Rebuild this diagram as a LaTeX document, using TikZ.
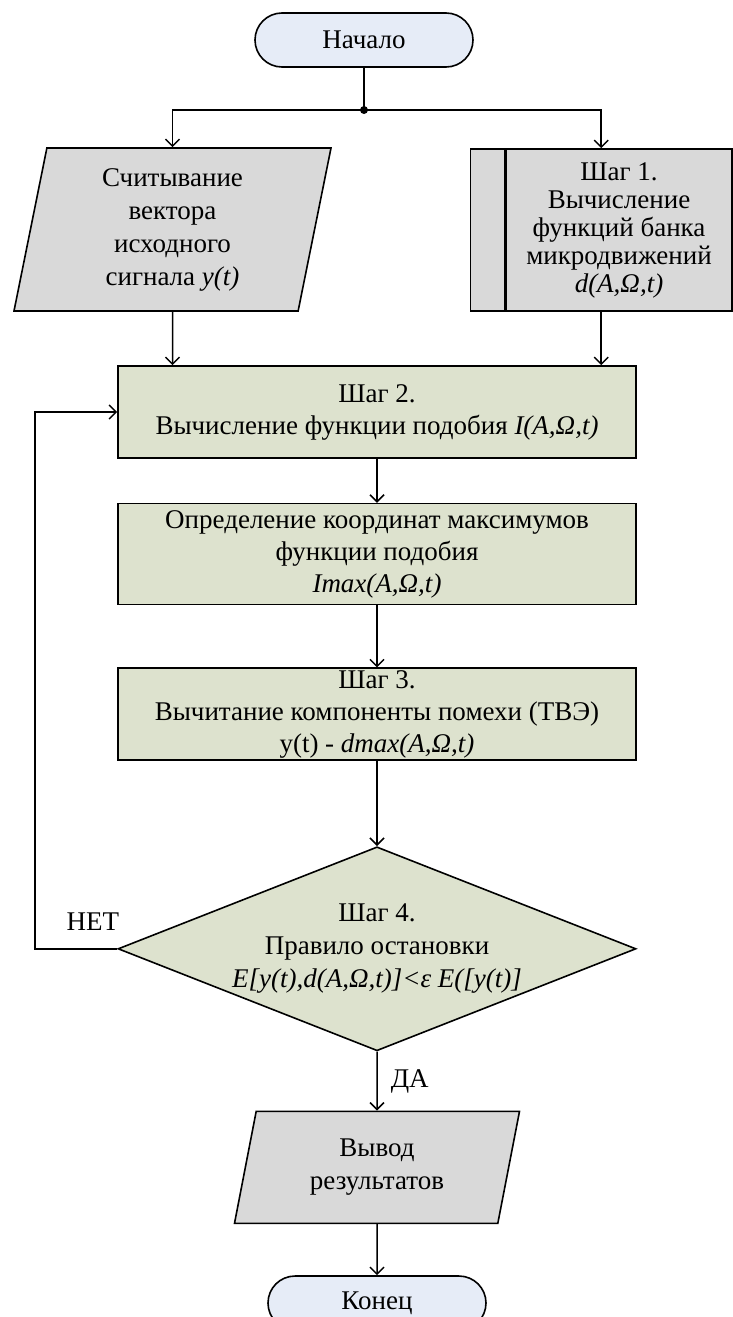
\documentclass[tikz,border=0pt]{standalone}
\usepackage{fontspec}
\setmainfont{Liberation Serif}
\usepackage{tikz}
\usetikzlibrary{positioning, shapes.geometric, arrows.meta, calc}

\definecolor{termfill}{RGB}{230,236,247}
\definecolor{iofill}{RGB}{217,217,217}
\definecolor{stepfill}{RGB}{221,226,206}

\begin{document}
\begin{tikzpicture}[
		x=1pt, y=1pt,
		node distance=44pt and 40pt,
		% --- STYLES ---
		terminal/.style={
			rectangle, draw, rounded corners=27pt, fill=termfill, line width=1.6pt,
			minimum width=218pt, minimum height=54pt, align=center, font=\fontsize{27}{32}\selectfont
		},
		iobox/.style={
			trapezium, trapezium stretches body, draw, fill=iofill, line width=1.6pt,
			inner sep=0pt, align=center, font=\fontsize{27}{33}\selectfont
		},
		procbox/.style={
			rectangle, draw, fill=iofill, line width=1.6pt, inner sep=0pt,
			minimum height=162pt, align=center, font=\fontsize{27}{28}\selectfont
		},
		stepbox/.style={
			rectangle, draw, fill=stepfill, line width=1.6pt, inner sep=0pt,
			minimum width=518pt, align=center, font=\fontsize{27}{32}\selectfont
		},
		decbox/.style={
			diamond, draw, fill=stepfill, line width=1.6pt, inner sep=0pt, shape aspect=2.54,
			minimum width=518pt, minimum height=204pt, align=center, font=\fontsize{27}{33}\selectfont
		},
		line/.style={
			draw, -{Straight Barb[length=7pt, width=14pt]}, line width=1.5pt
		},
		lbl/.style={
			font=\fontsize{27}{32}\selectfont, inner sep=0pt
		},
		dot/.style={
			circle, fill=black, inner sep=0pt, minimum size=8pt
		}
		]
		\useasboundingbox (0,0) rectangle (733,-1317);
		
		% ==========================================
		% 1. Start and split
		% ==========================================
		\node[terminal] (start) at (364,-40) {Начало};
		\coordinate (split) at (364,-110);
		\draw[line width=1.5pt] (start) -- (split);
		\node[dot] at (split) {};
		
		% ==========================================
		% 2. Input signal and function bank
		% ==========================================
		\node[iobox, trapezium left angle=75, trapezium right angle=105,
			minimum width=317pt, minimum height=163pt] (input) at (172.5,-229.5)
			{Считывание\\вектора\\исходного\\сигнала \textit{y(t)}};
		
		\node[procbox, minimum width=226pt] (bank) at (619,-230)
			{Шаг 1.\\Вычисление\\функций банка\\микродвижений\\\textit{d(A,Ω,t)}};
		\node[procbox, minimum width=34pt, left=0pt of bank] (bank_side) {};
		\coordinate (bank_in) at ($(bank_side.west)!0.5!(bank.east)$);
		
		\draw[line] (split) -| (input.north);
		\draw[line] (split) -| (bank_in |- bank.north);
		
		% ==========================================
		% 3. Steps 2 and 3
		% ==========================================
		\node[stepbox, minimum height=92pt] (step2) at (377,-412)
			{Шаг 2.\\Вычисление функции подобия \textit{I(A,Ω,t)}};
		\draw[line] (input) -- (input |- step2.north);
		\draw[line] (bank_in |- bank.south) -- (bank_in |- step2.north);
		
		\node[stepbox, minimum height=101pt, below=44pt of step2] (maxima)
			{Определение координат максимумов\\функции подобия\\\textit{Imax(A,Ω,t)}};
		\draw[line] (step2) -- (maxima);
		
		\node[stepbox, minimum height=92pt, below=62pt of maxima] (step3)
			{Шаг 3.\\Вычитание компоненты помехи (ТВЭ)\\y(t) - \textit{dmax(A,Ω,t)}};
		\draw[line] (maxima) -- (step3);
		
		% ==========================================
		% 4. Stop rule and loop back
		% ==========================================
		\node[decbox, below=85pt of step3] (stop)
			{Шаг 4.\\Правило остановки\\\textit{E[y(t),d(A,Ω,t)]<ε E([y(t)]}};
		\draw[line] (step3) -- (stop);
		
		\draw[line] (stop.west) -- ++(-82,0) |- (step2.west);
		\node[lbl, anchor=base east] (no_lbl) at ($(stop.west)+(2,18)$) {НЕТ};
		
		% ==========================================
		% 5. Output and end
		% ==========================================
		\node[iobox, trapezium left angle=69, trapezium right angle=111,
			minimum width=285pt, minimum height=112pt, below=59pt of stop] (result)
			{Вывод\\результатов};
		\draw[line] (stop) -- node[lbl, right=13pt] (yes_lbl) {ДА} (result);
		
		\node[terminal, below=51pt of result] (finish) {Конец};
		\draw[line] (result) -- (finish);
\end{tikzpicture}
\end{document}
